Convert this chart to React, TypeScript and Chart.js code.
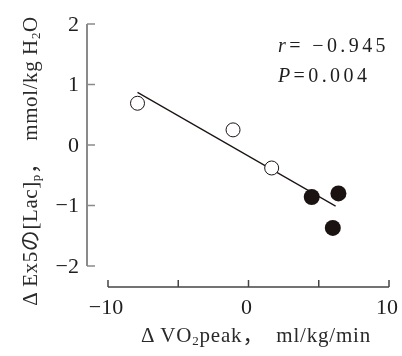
import React, { useEffect, useRef } from "react";
import { Chart, registerables } from "chart.js";

Chart.register(...registerables);

// ---- data ----
const openX = [-7.9, -1.1, 1.65];
const openY = [0.69, 0.25, -0.38];
const filledX = [4.5, 6.4, 6.0];
const filledY = [-0.86, -0.8, -1.37];
const fitX = [-7.9, 6.2];
const fitY = [0.87, -1.01];
const xTicks = [-10, -5, 0, 5, 10];
const xTickLabels = ["−10", "", "0", "", "10"];
const yTicks = [-2, -1, 0, 1, 2];
const yTickLabels = ["−2", "−1", "0", "1", "2"];
const statR = "−0.945";
const statP = "0.004";

const SERIF = '"Liberation Serif", "Noto Sans CJK JP", serif';

type Seg = { t: string; sub?: boolean; it?: boolean };

function segFont(s: Seg, size: number) {
  const sz = s.sub ? Math.round(size * 0.6) : size;
  return `${s.it ? "italic " : ""}${sz}px ${SERIF}`;
}

function drawRich(ctx: CanvasRenderingContext2D, segs: Seg[], x: number, y: number, size: number, align: "left" | "center") {
  let total = 0;
  for (const s of segs) {
    ctx.font = segFont(s, size);
    total += ctx.measureText(s.t).width;
  }
  let cx = align === "center" ? x - total / 2 : x;
  ctx.textBaseline = "alphabetic";
  ctx.textAlign = "left";
  for (const s of segs) {
    ctx.font = segFont(s, size);
    ctx.fillText(s.t, cx, s.sub ? y + size * 0.12 : y);
    cx += ctx.measureText(s.t).width;
  }
}

const axesPlugin = {
  id: "customAxes",
  afterDraw(chart: any) {
    const ctx: CanvasRenderingContext2D = chart.ctx;
    const xs = chart.scales.x;
    const ys = chart.scales.y;
    const off = 21;
    ctx.save();
    // y axis
    const yAxisX = xs.left - off;
    ctx.strokeStyle = "#8a8a8a";
    ctx.lineWidth = 2;
    ctx.beginPath();
    ctx.moveTo(yAxisX, ys.getPixelForValue(yTicks[yTicks.length - 1]));
    ctx.lineTo(yAxisX, ys.getPixelForValue(yTicks[0]));
    ctx.stroke();
    ctx.lineWidth = 1.5;
    yTicks.forEach((v) => {
      const py = ys.getPixelForValue(v);
      ctx.beginPath();
      ctx.moveTo(yAxisX, py);
      ctx.lineTo(yAxisX + 8, py);
      ctx.stroke();
    });
    ctx.fillStyle = "#1e1e1e";
    ctx.font = `22px ${SERIF}`;
    ctx.textAlign = "right";
    ctx.textBaseline = "middle";
    yTicks.forEach((v, i) => {
      ctx.fillText(yTickLabels[i], yAxisX - 8, ys.getPixelForValue(v) + 1);
    });
    // x axis
    const xAxisY = ys.bottom + off;
    ctx.strokeStyle = "#444";
    ctx.lineWidth = 1.5;
    ctx.beginPath();
    ctx.moveTo(xs.getPixelForValue(xTicks[0]), xAxisY);
    ctx.lineTo(xs.getPixelForValue(xTicks[xTicks.length - 1]), xAxisY);
    ctx.stroke();
    xTicks.forEach((v) => {
      const px = xs.getPixelForValue(v);
      ctx.beginPath();
      ctx.moveTo(px, xAxisY);
      ctx.lineTo(px, xAxisY - 7);
      ctx.stroke();
    });
    ctx.textAlign = "center";
    ctx.textBaseline = "middle";
    xTicks.forEach((v, i) => {
      if (xTickLabels[i]) ctx.fillText(xTickLabels[i], xs.getPixelForValue(v) - 2, xAxisY + 21);
    });
    // x title
    ctx.fillStyle = "#2a2a2a";
    (ctx as any).letterSpacing = "0.8px";
    drawRich(ctx, [{ t: "Δ\u2009VO" }, { t: "2", sub: true }, { t: "peak，  ml/kg/min" }], 256, 342, 21, "center");
    // y title
    (ctx as any).letterSpacing = "0.6px";
    ctx.save();
    ctx.translate(37, 161);
    ctx.rotate(-Math.PI / 2);
    drawRich(
      ctx,
      [{ t: "Δ\u2009Ex5の[Lac]" }, { t: "p", sub: true }, { t: "，  mmol/kg H" }, { t: "2", sub: true }, { t: "O" }],
      0,
      0,
      21,
      "center"
    );
    ctx.restore();
    // stats
    ctx.fillStyle = "#1e1e1e";
    (ctx as any).letterSpacing = "3.4px";
    drawRich(ctx, [{ t: "r", it: true }, { t: "= " + statR }], 278, 52, 20, "left");
    drawRich(ctx, [{ t: "P", it: true }, { t: "=" + statP }], 278, 82, 20, "left");
    (ctx as any).letterSpacing = "0px";
    ctx.restore();
  },
};

export default function App() {
  const ref = useRef<HTMLCanvasElement | null>(null);
  useEffect(() => {
    if (!ref.current) return;
    const chart = new Chart(ref.current, {
      type: "scatter",
      data: {
        datasets: [
          {
            type: "scatter",
            data: openX.map((x, i) => ({ x, y: openY[i] })),
            pointRadius: 7,
            pointBackgroundColor: "#ffffff",
            pointBorderColor: "#1a1311",
            pointBorderWidth: 1,
            order: 1,
            clip: false,
          } as any,
          {
            type: "scatter",
            data: filledX.map((x, i) => ({ x, y: filledY[i] })),
            pointRadius: 8,
            pointBackgroundColor: "#1a1311",
            pointBorderColor: "#1a1311",
            pointBorderWidth: 0,
            order: 1,
            clip: false,
          } as any,
          {
            type: "line",
            data: fitX.map((x, i) => ({ x, y: fitY[i] })),
            borderColor: "#1a1311",
            borderWidth: 1.2,
            pointRadius: 0,
            fill: false,
            order: 5,
            clip: false,
          } as any,
        ],
      },
      options: {
        animation: false,
        responsive: false,
        layout: { padding: { left: 108, right: 13, top: 24, bottom: 90 } },
        plugins: { legend: { display: false }, tooltip: { enabled: false } },
        scales: {
          x: { type: "linear", min: -10, max: 10, display: false },
          y: { type: "linear", min: -2, max: 2, display: false },
        },
      },
      plugins: [axesPlugin],
    });
    return () => chart.destroy();
  }, []);
  return (
    <div style={{ position: "absolute", left: 0, top: 0, width: 402, height: 356, background: "#fff" }}>
      <canvas ref={ref} width={402} height={356} />
    </div>
  );
}
